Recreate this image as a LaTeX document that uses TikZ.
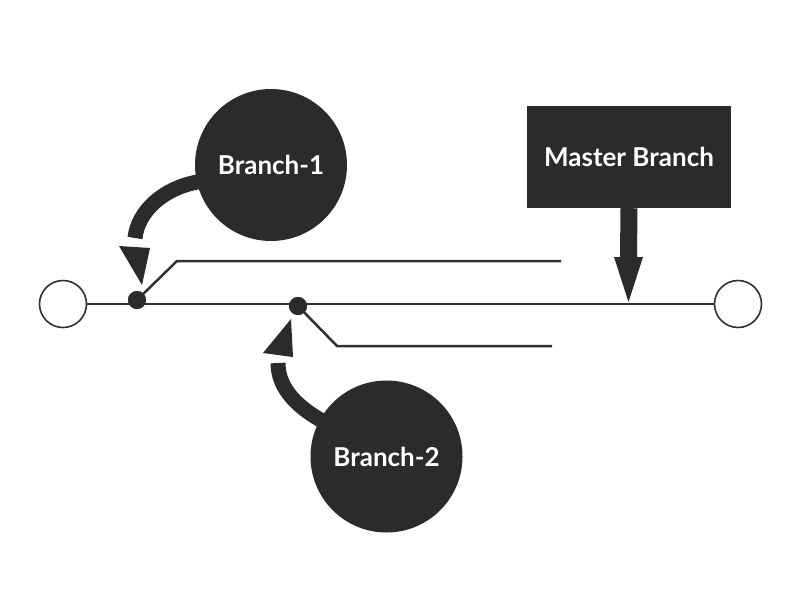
\documentclass[tikz,border=0pt]{standalone}
\usepackage{fontspec}
\setmainfont{Lato}
\usetikzlibrary{calc}
\pgfdeclarelayer{bg}
\pgfsetlayers{bg,main}
\definecolor{ink}{HTML}{2B2B2B}
\definecolor{lineg}{HTML}{303030}
\begin{document}
\begin{tikzpicture}[x=1pt,y=-1pt,
  bubble/.style={circle, fill=ink, minimum size=152pt, inner sep=0pt, text=white,
    font=\fontsize{26}{30}\selectfont\bfseries},
  endpt/.style={circle, draw=lineg, line width=1.6pt, fill=white, minimum size=47pt, inner sep=0pt},
  dotn/.style={circle, fill=ink, minimum size=18pt, inner sep=0pt},
  mainwire/.style={draw=lineg, line width=2pt},
  wire/.style={draw=lineg, line width=2.5pt},
  shaft/.style={draw=ink, line width=15pt},
  headfill/.style={fill=ink}]
\useasboundingbox (0,0) rectangle (800,600);

% end points and main line
\node[endpt] (L) at (63,304) {};
\node[endpt] (R) at (738,304) {};
\draw[mainwire] (L.east) -- (R.west);

% branch points
\node[dotn] (D1) at (137,300) {};
\node[dotn] (D2) at (298,306) {};
\coordinate (b1k) at (177,261);
\coordinate (b1e) at (561,261);
\coordinate (b2k) at (337,346);
\coordinate (b2e) at (552,346);
\draw[wire] (D1.center) -- (b1k) -- (b1e);
\draw[wire] (D2.center) -- (b2k) -- (b2e);
\node[dotn] at (D1) {};
\node[dotn] at (D2) {};

% bubbles
\node[bubble] (B1) at (271,165) {Branch-1};
\node[bubble] (B2) at (386.5,456.5) {Branch-2};

% master branch box
\node[fill=ink, minimum width=204pt, minimum height=102pt, inner sep=0pt, text=white,
  font=\fontsize{26}{30}\selectfont\bfseries] (M) at (629,157) {Master Branch};

% master arrow
\coordinate (mneck) at (628.5,257);
\coordinate (mtip) at (628.5,302);
\begin{pgfonlayer}{bg}
\draw[draw=ink, line width=17pt] (M.south) -- (mneck);
\end{pgfonlayer}
\fill[headfill] ($(mneck)+(-14.5,0)$) -- ($(mneck)+(14.5,0)$) -- (mtip) -- cycle;

% Branch-1 curved arrow
\coordinate (a1end) at (135,238);
\begin{pgfonlayer}{bg}
\draw[shaft] (B1.center) -- (B1.193) .. controls (165,188) and (138,210) .. (a1end);
\end{pgfonlayer}
\coordinate (h1a) at (119,246);
\coordinate (h1b) at (150,248);
\coordinate (h1t) at (142,285);
\fill[headfill] (h1a) -- (h1b) -- (h1t) -- cycle;

% Branch-2 curved arrow
\coordinate (a2end) at (278,363);
\begin{pgfonlayer}{bg}
\draw[shaft] (B2.center) -- (B2.151) .. controls (300,408) and (278,390) .. (a2end);
\end{pgfonlayer}
\coordinate (h2a) at (263,353);
\coordinate (h2b) at (293,357);
\coordinate (h2t) at (291,319);
\fill[headfill] (h2a) -- (h2b) -- (h2t) -- cycle;
\end{tikzpicture}
\end{document}
